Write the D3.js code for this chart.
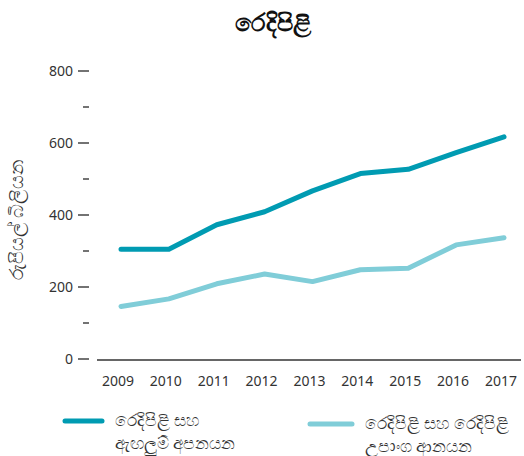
<!DOCTYPE html>
<html><head><meta charset="utf-8">
<script src="https://cdn.jsdelivr.net/npm/d3@7"></script>
<style>body{margin:0;background:#fff}svg{display:block}</style>
</head><body>
<script>
const years = [2009,2010,2011,2012,2013,2014,2015,2016,2017];
const exportsVals = [305,305,373,409,467,515,527,573,617];
const importsVals = [146,167,209,236,215,248,252,317,337];
const seriesNames = [["රෙදිපිළි සහ","ඇඟලුම් අපනයන"],["රෙදිපිළි සහ රෙදිපිළි","උපාංග ආනයන"]];
const colors = ["#009bb2","#80cdd8"];
const yTicks = [0,100,200,300,400,500,600,700,800];
const title = "රෙදිපිළි";
const yTitle = "රුපියල් බිලියන";

const W=524,H=456;
const font = "'Noto Sans', 'DejaVu Sans', sans-serif";
const svg = d3.select("body").append("svg").attr("width",W).attr("height",H);
const x = d3.scalePoint().domain(years).range([121,504]);
const y = d3.scaleLinear().domain([0,800]).range([359,71]);

svg.append("text").attr("x",273).attr("y",31).attr("text-anchor","middle")
  .attr("font-family",font).attr("font-weight","bold").attr("font-size",24).attr("fill","#111").text(title);

// y axis ticks
const yg = svg.append("g");
yTicks.forEach(t=>{
  const major = t%200===0;
  yg.append("line").attr("x1",major?78:83).attr("x2",89).attr("y1",y(t)).attr("y2",y(t))
    .attr("stroke","#444").attr("stroke-width",1.5);
  if(major) yg.append("text").attr("x",73).attr("y",y(t)).attr("dy","0.35em").attr("text-anchor","end")
    .attr("font-family",font).attr("font-size",14).attr("fill","#333").text(t);
});
svg.append("text").attr("transform",`translate(23,${y(400)+5}) rotate(-90)`).attr("text-anchor","middle")
  .attr("font-family",font).attr("font-size",19).attr("fill","#333").text(yTitle);

// baseline
svg.append("line").attr("x1",97).attr("x2",521).attr("y1",y(0)+1).attr("y2",y(0)+1).attr("stroke","#666").attr("stroke-width",2);
years.forEach(yr=>{
  svg.append("text").attr("x",x(yr)-3).attr("y",386).attr("text-anchor","middle")
    .attr("font-family",font).attr("font-size",14).attr("fill","#333").text(yr);
});

const line = d3.line().x((d,i)=>x(years[i])).y(d=>y(d));
[exportsVals, importsVals].forEach((vals,i)=>{
  svg.append("path").attr("d",line(vals)).attr("fill","none").attr("stroke",colors[i])
    .attr("stroke-width",5).attr("stroke-linecap","round").attr("stroke-linejoin","round");
});

// legend
const leg = [{sx:65,ex:102,ly:421,tx:115},{sx:310,ex:352,ly:424,tx:365}];
leg.forEach((l,i)=>{
  svg.append("line").attr("x1",l.sx).attr("x2",l.ex).attr("y1",l.ly).attr("y2",l.ly)
    .attr("stroke",colors[i]).attr("stroke-width",5).attr("stroke-linecap","round");
  seriesNames[i].forEach((s,j)=>{
    svg.append("text").attr("x",l.tx).attr("y",l.ly+j*23-1).attr("dy","0.35em")
      .attr("font-family",font).attr("font-size",16.5).attr("fill","#333").text(s);
  });
});
</script>
</body></html>
